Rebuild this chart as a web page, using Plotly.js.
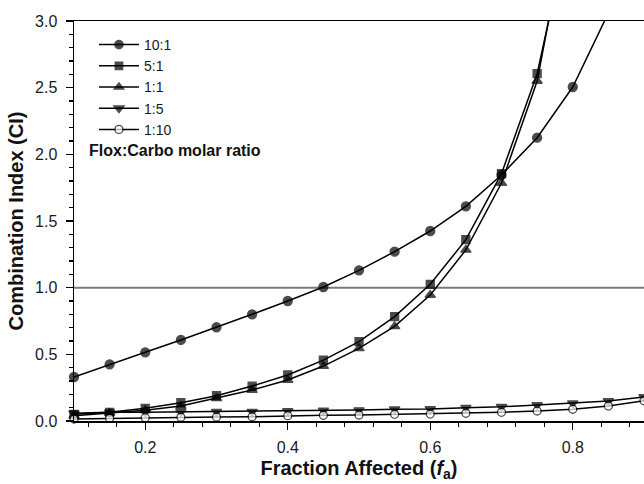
<!DOCTYPE html>
<html>
<head>
<meta charset="utf-8">
<script src="https://cdn.plot.ly/plotly-3.0.1.min.js"></script>
<style>
  html, body { margin: 0; padding: 0; background: #ffffff; overflow: hidden; }
  #chart { width: 644px; height: 484px; }
</style>
</head>
<body>
<div id="chart"></div>
<script>
// Fraction affected (fa) at which the combination index was evaluated
const fractionAffected = [0.10, 0.15, 0.20, 0.25, 0.30, 0.35, 0.40, 0.45, 0.50,
                          0.55, 0.60, 0.65, 0.70, 0.75, 0.80, 0.85, 0.90];

// Combination index for each Flox:Carbo molar ratio
const ci_10_1 = [0.33, 0.425, 0.515, 0.608, 0.703, 0.80, 0.90, 1.005, 1.13,
                 1.27, 1.425, 1.61, 1.845, 2.125, 2.505, 3.06];
const ci_5_1  = [0.05, 0.065, 0.095, 0.137, 0.19, 0.262, 0.345, 0.457, 0.595,
                 0.783, 1.025, 1.36, 1.855, 2.605, 3.83];
const ci_1_1  = [0.04, 0.06, 0.08, 0.112, 0.17, 0.232, 0.307, 0.412, 0.545,
                 0.71, 0.945, 1.283, 1.785, 2.55, 3.95];
const ci_1_5  = [0.058, 0.065, 0.066, 0.068, 0.07, 0.071, 0.075, 0.08, 0.082,
                 0.088, 0.09, 0.10, 0.107, 0.12, 0.133, 0.15, 0.18];
const ci_1_10 = [0.015, 0.02, 0.025, 0.028, 0.03, 0.032, 0.04, 0.043, 0.045,
                 0.05, 0.052, 0.058, 0.065, 0.075, 0.088, 0.112, 0.152];

const ratioLabels = ['10:1', '5:1', '1:1', '1:5', '1:10'];
const legendNote = 'Flox:Carbo molar ratio';
const xTitle = 'Fraction Affected (<i>f</i><sub>a</sub>)';
const yTitle = 'Combination Index (CI)';

const Y_MAX = 3.0;
const FONT = 'Arial, "Liberation Sans", Helvetica, sans-serif';

// marker look per ratio
const styles = [
  { symbol: 'circle',        size: 9, fill: '#000000' },
  { symbol: 'square',        size: 8, fill: '#000000' },
  { symbol: 'triangle-up',   size: 9, fill: '#000000' },
  { symbol: 'triangle-down', size: 9, fill: '#000000' },
  { symbol: 'circle',        size: 8, fill: '#ffffff' }
];

const series = [ci_10_1, ci_5_1, ci_1_1, ci_1_5, ci_1_10];

const traces = series.map((ys, i) => ({
  type: 'scatter',
  mode: 'lines+markers',
  name: ratioLabels[i],
  x: fractionAffected.slice(0, ys.length),
  y: ys,
  cliponaxis: false,
  line: { color: '#000000', width: 1.5 },
  marker: {
    symbol: styles[i].symbol,
    // points beyond the top of the axis are not marked
    size: ys.map(v => (v > Y_MAX ? 0 : styles[i].size)),
    color: styles[i].fill,
    line: { color: '#000000', width: 1.3 }
  }
}));

const layout = {
  width: 644,
  height: 484,
  margin: { l: 74, r: 0, t: 21, b: 63 },
  paper_bgcolor: '#ffffff',
  plot_bgcolor: '#ffffff',
  font: { family: FONT, color: '#1a1a1a' },
  showlegend: true,
  legend: {
    x: 0.035, y: 0.98, xanchor: 'left', yanchor: 'top',
    bgcolor: 'rgba(0,0,0,0)',
    font: { family: FONT, size: 14, color: '#1a1a1a' },
    itemwidth: 40,
    tracegroupgap: 0
  },
  xaxis: {
    range: [0.1, 0.9],
    tick0: 0, dtick: 0.2,
    ticks: 'outside', ticklen: 7, tickwidth: 1.3, tickcolor: '#000000',
    minor: { dtick: 0.04, tick0: 0, ticks: 'outside', ticklen: 4, tickwidth: 1.2, tickcolor: '#000000' },
    showline: true, linecolor: '#000000', linewidth: 1.5,
    mirror: true,
    showgrid: false, zeroline: false,
    tickfont: { family: FONT, size: 16, color: '#1a1a1a' },
    ticklabelstandoff: 4,
    title: { text: xTitle, font: { family: FONT, size: 20, color: '#111111', weight: 'bold' }, standoff: 6 }
  },
  yaxis: {
    range: [0, Y_MAX],
    tick0: 0, dtick: 0.5, tickformat: '.1f',
    ticks: 'outside', ticklen: 7, tickwidth: 1.3, tickcolor: '#000000',
    minor: { dtick: 0.1, tick0: 0, ticks: 'outside', ticklen: 4, tickwidth: 1.2, tickcolor: '#000000' },
    showline: true, linecolor: '#000000', linewidth: 1.5,
    showgrid: false, zeroline: false,
    tickfont: { family: FONT, size: 16, color: '#1a1a1a' },
    ticklabelstandoff: 5,
    title: { text: yTitle, font: { family: FONT, size: 20, color: '#111111', weight: 'bold' }, standoff: 6 }
  },
  shapes: [{
    // CI = 1 reference line (additivity)
    type: 'line', layer: 'below',
    xref: 'paper', x0: 0, x1: 1,
    yref: 'y', y0: 1, y1: 1,
    line: { color: '#7a7a7a', width: 2 }
  }],
  annotations: [{
    text: '<b>' + legendNote + '</b>',
    xref: 'paper', yref: 'paper',
    x: 0.022, y: 0.6775, xanchor: 'left', yanchor: 'middle',
    showarrow: false,
    font: { family: FONT, size: 16, color: '#111111' }
  }]
};

Plotly.newPlot('chart', traces, layout, { displayModeBar: false, staticPlot: true });
</script>
</body>
</html>
